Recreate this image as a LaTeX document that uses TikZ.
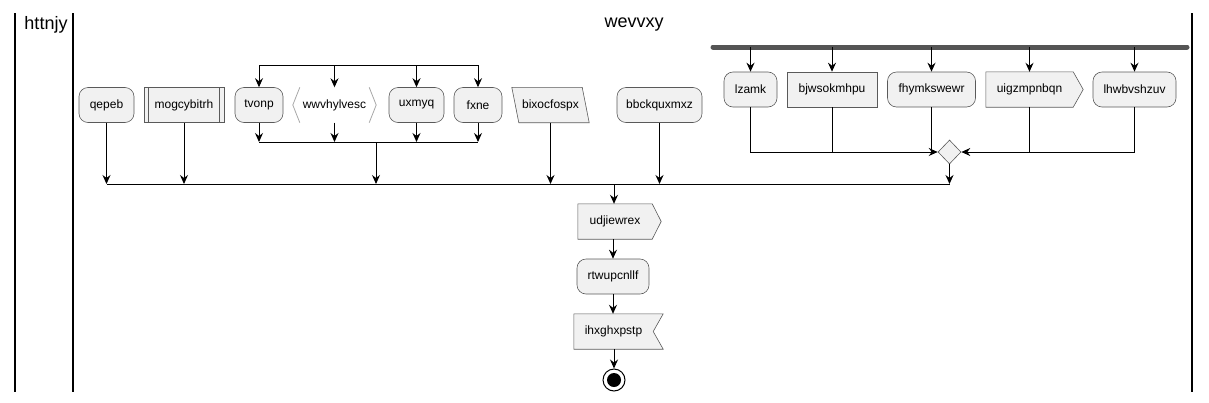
\documentclass[tikz,border=0pt]{standalone}
\usepackage{fontspec}
\setmainfont{Liberation Sans}
\usetikzlibrary{arrows.meta,shapes.geometric}
\definecolor{fl}{HTML}{F1F1F1}
\definecolor{bd}{HTML}{5A5A5A}
\definecolor{barc}{HTML}{555555}
\definecolor{hexl}{HTML}{A8A8A8}
\tikzset{
 lbl/.style={font=\fontsize{12}{14}\selectfont, inner sep=0pt, minimum height=35pt, anchor=center},
 rbox/.style={lbl, draw=bd, fill=fl, line width=0.6pt, rounded corners=9pt, minimum width=#1},
 sbox/.style={lbl, draw=bd, fill=fl, line width=0.6pt, minimum width=#1},
 ghost/.style={lbl, minimum width=#1},
 outl/.style={draw=bd, fill=fl, line width=0.6pt},
 arr/.style={line width=1pt, -{Stealth[length=9pt,width=8pt,inset=3pt]}},
 ln/.style={line width=1pt},
 lane/.style={line width=1.8pt},
 ttl/.style={font=\fontsize{18}{21}\selectfont, inner sep=0pt},
}
\begin{document}
\begin{tikzpicture}[x=1pt,y=-1pt]
\useasboundingbox (0,0) rectangle (1209,402);
% lanes
\coordinate (l1t) at (15,13); \coordinate (l1b) at (15,392);
\coordinate (l2t) at (73,13); \coordinate (l2b) at (73,392);
\coordinate (l3t) at (1192,13); \coordinate (l3b) at (1192,392);
\draw[lane] (l1t) -- (l1b);
\draw[lane] (l2t) -- (l2b);
\draw[lane] (l3t) -- (l3b);
\node[ttl] (t1) at (46,25) {httnjy};
\node[ttl] (t2) at (634,25) {wevvxy};
% left row
\node[rbox=55pt] (qepeb) at (106.5,105) {qepeb};
\node[sbox=80pt] (mog) at (184,105) {mogcybitrh};
\draw[bd,line width=0.6pt] ([xshift=5pt]mog.north west) -- ([xshift=5pt]mog.south west);
\draw[bd,line width=0.6pt] ([xshift=-5pt]mog.north east) -- ([xshift=-5pt]mog.south east);
\node[rbox=48pt] (tvonp) at (259,105) {tvonp};
\node[ghost=83pt] (wwv) at (334.5,105) {};
\fill[white] ([xshift=7pt]wwv.north west) -- (wwv.west) -- ([xshift=7pt]wwv.south west) -- ([xshift=-7pt]wwv.south east) -- (wwv.east) -- ([xshift=-7pt]wwv.north east) -- cycle;
\draw[hexl,line width=0.8pt] ([xshift=7pt]wwv.north west) -- (wwv.west) -- ([xshift=7pt]wwv.south west);
\draw[hexl,line width=0.8pt] ([xshift=-7pt]wwv.north east) -- (wwv.east) -- ([xshift=-7pt]wwv.south east);
\node[lbl] at (wwv) {wwvhylvesc};
\node[rbox=55pt] (uxmyq) at (416.5,105) {uxmyq};
\node[rbox=48pt] (fxne) at (478,105) {fxne};
\node[ghost=77pt] (bix) at (550.5,105) {};
\draw[outl] (bix.north west) -- ([xshift=-7pt]bix.north east) -- (bix.south east) -- ([xshift=7pt]bix.south west) -- cycle;
\node[lbl] at (bix) {bixocfospx};
\node[rbox=85pt] (bbc) at (659.5,105) {bbckquxmxz};
% fork/join of inner group
\coordinate (f1) at (258,65);
\coordinate (f2) at (478,65);
\coordinate (j1) at (258,142);
\coordinate (j2) at (478,142);
\coordinate (jo) at (376,142);
\draw[ln] (tvonp.north |- f1) -- (fxne.north |- f2);
\draw[arr] (tvonp.north |- f1) -- (tvonp.north);
\draw[arr] (wwv.north |- f1) -- (wwv.north);
\draw[arr] (uxmyq.north |- f1) -- (uxmyq.north);
\draw[arr] (fxne.north |- f1) -- (fxne.north);
\draw[ln] (tvonp.south |- j1) -- (fxne.south |- j2);
\draw[arr] (tvonp.south) -- (tvonp.south |- j1);
\draw[arr] (wwv.south) -- (wwv.south |- j1);
\draw[arr] (uxmyq.south) -- (uxmyq.south |- j1);
\draw[arr] (fxne.south) -- (fxne.south |- j1);
% right fork
\coordinate (fb1) at (713,47);
\coordinate (fb2) at (1187,47);
\draw[barc,line width=5pt,line cap=round] (fb1) -- (fb2);
\node[rbox=53pt] (lza) at (750.5,89.5) {lzamk};
\node[sbox=90pt] (bjw) at (832,89.5) {bjwsokmhpu};
\node[rbox=88pt] (fhy) at (931.5,89.5) {fhymkswewr};
\node[ghost=87pt] (uig) at (1029.5,89.5) {};
\draw[outl] (uig.north west) -- (uig.north east) -- ([xshift=10pt]uig.east) -- (uig.south east) -- (uig.south west) -- cycle;
\node[lbl] at (uig) {uigzmpnbqn};
\node[rbox=83pt] (lhw) at (1134.5,89.5) {lhwbvshzuv};
\foreach \n in {lza,bjw,fhy,uig,lhw}{\draw[arr] (\n.north |- fb1) -- (\n.north);}
\node[diamond, draw=bd, fill=fl, line width=0.6pt, minimum width=23pt, minimum height=24pt, inner sep=0pt] (dm) at (949.5,152) {};
\draw[arr] (lza.south) |- (dm.west);
\draw[ln] (bjw.south) -- (bjw.south |- dm.west);
\draw[ln] (fhy.south) -- (fhy.south |- dm.west);
\draw[arr] (lhw.south) |- (dm.east);
\draw[ln] (uig.south) -- (uig.south |- dm.east);
% main merge
\coordinate (m1) at (106.5,184);
\coordinate (m2) at (949.5,184);
\coordinate (mo) at (614,184);
\draw[ln] (m1) -- (m2);
\draw[arr] (qepeb.south) -- (qepeb.south |- m1);
\draw[arr] (mog.south) -- (mog.south |- m1);
\draw[arr] (jo) -- (jo |- m1);
\draw[arr] (bix.south) -- (bix.south |- m1);
\draw[arr] (bbc.south) -- (bbc.south |- m1);
\draw[arr] (dm.south) -- (m2);
% bottom chain
\node[ghost=74pt] (udj) at (615,221.5) {};
\draw[outl] (udj.north west) -- (udj.north east) -- ([xshift=9pt]udj.east) -- (udj.south east) -- (udj.south west) -- cycle;
\node[lbl] at (udj) {udjiewrex};
\node[rbox=72pt] (rtw) at (613,276.5) {rtwupcnllf};
\node[ghost=79pt] (ihx) at (613.5,331.5) {};
\draw[outl] (ihx.north west) -- ([xshift=10pt]ihx.north east) -- (ihx.east) -- ([xshift=10pt]ihx.south east) -- (ihx.south west) -- cycle;
\node[lbl] at (ihx) {ihxghxpstp};
\node[circle, draw=black, line width=1pt, fill=white, minimum size=22pt, inner sep=0pt] (end) at (614,380) {};
\fill[black] (end.center) circle (7pt);
\draw[arr] (mo) -- (mo |- udj.north);
\draw[arr] (rtw.north |- udj.south) -- (rtw.north);
\draw[arr] (rtw.south) -- (rtw.south |- ihx.north);
\draw[arr] (end.north |- ihx.south) -- (end.north);
\end{tikzpicture}
\end{document}
